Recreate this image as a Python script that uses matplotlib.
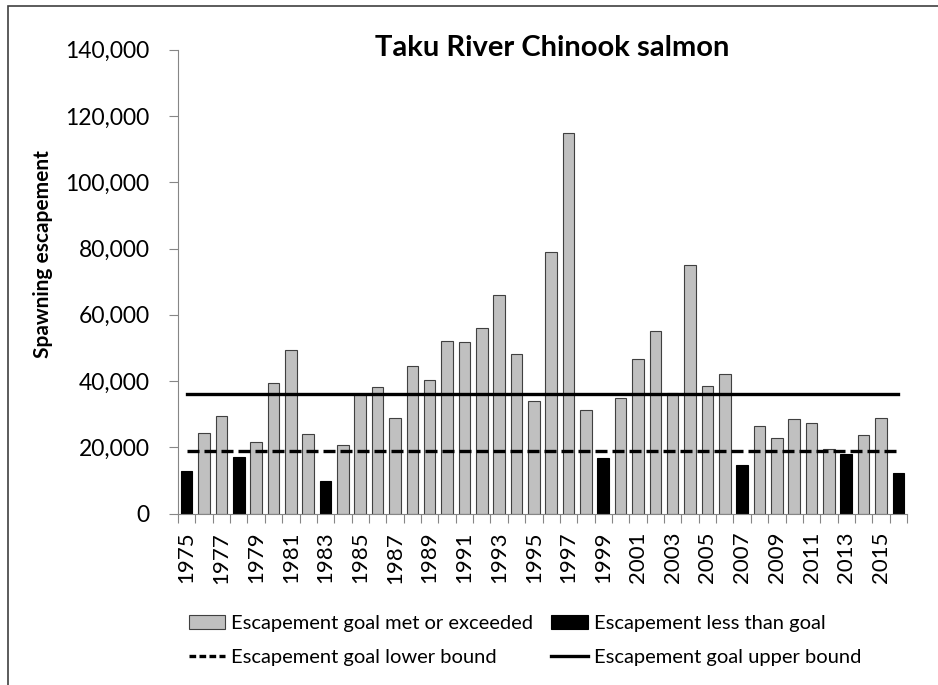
import matplotlib
matplotlib.use("Agg")
import matplotlib.pyplot as plt
from matplotlib.patches import Patch, Rectangle
from matplotlib.lines import Line2D
from matplotlib.ticker import FuncFormatter, FixedLocator
import numpy as np

plt.rcParams['font.family'] = ['Lato', 'DejaVu Sans']

years = list(range(1975, 2017))
escapement = [13000, 24500, 29500, 17200, 21500, 39300, 49500, 23900, 9800, 20800,
              36000, 38100, 28900, 44500, 40300, 52200, 51700, 55900, 66100, 48300,
              33900, 79100, 115000, 31200, 16900, 35000, 46600, 55000, 36300, 75000,
              38600, 42200, 14800, 26600, 22800, 28700, 27500, 19600, 18000, 23600,
              28800, 12400]
goal_lower = 19000
goal_upper = 36000
tick_labels = [str(y) for y in years[::2]]

W, H = 938, 685
fig = plt.figure(figsize=(W / 100, H / 100), dpi=100)
ax = fig.add_axes([178 / W, 1 - 513.7 / H, (907 - 178) / W, (513.7 - 49.7) / H])

x = np.arange(len(years))
below = [v < goal_lower for v in escapement]
colors = ['black' if b else '#C0C0C0' for b in below]
edges = ['black' if b else '#404040' for b in below]
ax.bar(x, escapement, width=0.67, color=colors, edgecolor=edges, linewidth=0.8, zorder=2)

ax.plot(x, [goal_lower] * len(x), color='black', lw=2.4, dashes=(3.6, 1.5), zorder=3)
ax.plot(x, [goal_upper] * len(x), color='black', lw=2.4, zorder=3)

ax.set_xlim(-0.5, len(years) - 0.5)
ax.set_ylim(0, 140000)
ax.yaxis.set_major_locator(FixedLocator(np.arange(0, 140001, 20000)))
ax.yaxis.set_major_formatter(FuncFormatter(lambda v, p: f"{int(v):,}"))
ax.set_xticks(x[::2])
ax.set_xticklabels(tick_labels, rotation=90)
ax.set_xticks(np.arange(-0.5, len(years)), minor=True)
ax.tick_params(axis='x', which='major', length=0, pad=13, labelsize=16)
ax.tick_params(axis='x', which='minor', length=6.3, width=0.8, color='#868686', direction='out')
ax.tick_params(axis='y', which='major', length=6.5, width=0.8, color='#868686', direction='out',
               pad=14, labelsize=16.5)

for s in ['top', 'right']:
    ax.spines[s].set_visible(False)
for s in ['left', 'bottom']:
    ax.spines[s].set_color('#868686')
    ax.spines[s].set_linewidth(0.8)

fig.text(552 / W, 1 - 56 / H, 'Taku River Chinook salmon', ha='center', va='baseline',
         fontsize=21, fontweight='bold')
fig.text(43 / W, 1 - 254 / H, 'Spawning escapement', rotation=90, ha='center', va='center',
         fontsize=15, fontweight='bold')

handles = [
    Patch(facecolor='#C0C0C0', edgecolor='#404040', linewidth=0.8),
    Line2D([0], [0], color='black', lw=2.4, dashes=(2.0, 1.0)),
    Patch(facecolor='black', edgecolor='black', linewidth=0.8),
    Line2D([0], [0], color='black', lw=2.4),
]
labels = ['Escapement goal met or exceeded', 'Escapement goal lower bound',
          'Escapement less than goal', 'Escapement goal upper bound']
fig.legend(handles, labels, ncol=2, loc='upper left', bbox_to_anchor=(189 / W, 1 - 615 / H),
           frameon=False, fontsize=14.5, handlelength=1.8, handleheight=0.65, handletextpad=0.3,
           columnspacing=0.9, labelspacing=0.85, borderpad=0, borderaxespad=0)

fig.add_artist(Rectangle((8 / W, -0.1), 1.2, 1 - 6 / H + 0.1, transform=fig.transFigure,
                         fill=False, edgecolor='#404040', linewidth=1.2))

fig.savefig('out.png', dpi=100)
